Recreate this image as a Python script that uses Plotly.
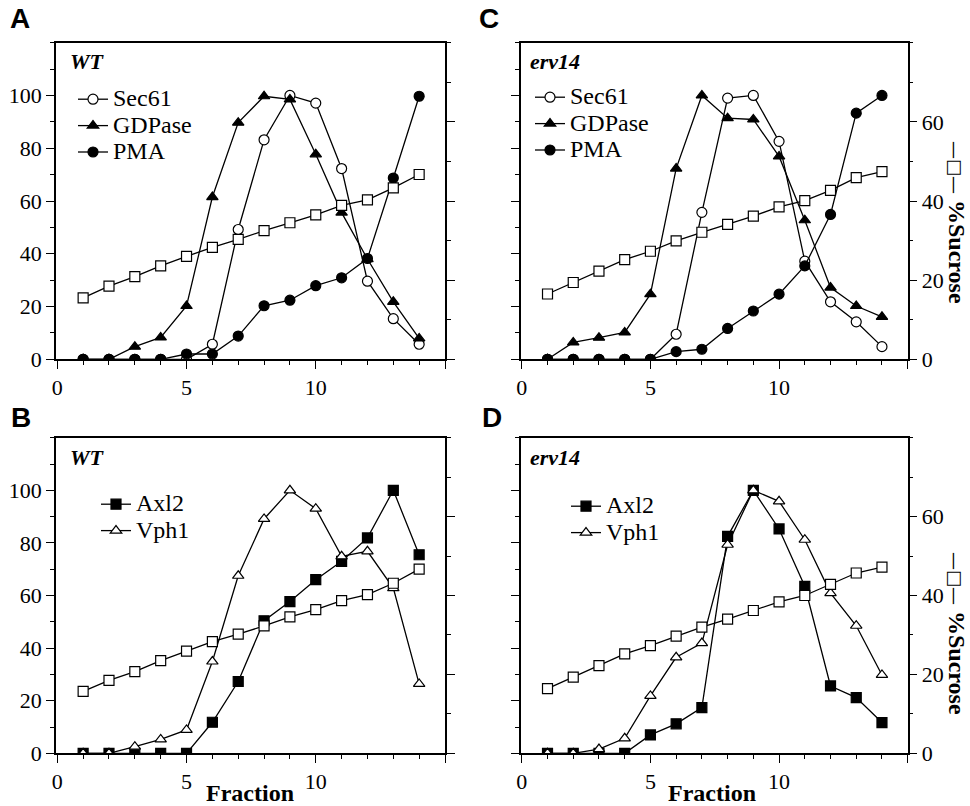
import plotly.graph_objects as go

fractions = list(range(1, 15))

# Panel A (WT)
a_sec61 = [0, 0, 0, 0, 0, 5.7, 49.2, 83.2, 100, 97.1, 72.3, 29.6, 15.4, 5.7]
a_gdpase = [0, 0, 4.8, 8.3, 20.2, 61.5, 89.7, 99.7, 98.5, 77.7, 55.6, 38, 21.8, 7.9]
a_pma = [0, 0, 0, 0, 2, 2, 8.8, 20.3, 22.4, 27.9, 30.9, 38.2, 68.7, 99.7]
a_sucrose = [15.5, 18.5, 20.9, 23.6, 26.0, 28.3, 30.3, 32.5, 34.5, 36.5, 38.9, 40.3, 43.3, 46.7]

# Panel C (erv14)
c_sec61 = [0, 0, 0, 0, 0, 9.5, 55.7, 99, 100, 82.6, 37.2, 21.8, 14.2, 4.8]
c_gdpase = [0, 6.4, 8.2, 10.2, 24.7, 72.3, 100, 91.4, 90.9, 76.9, 52.7, 27.2, 20.2, 16.1]
c_pma = [0, 0, 0, 0, 0, 2.9, 3.8, 11.7, 18.3, 24.7, 35.4, 54.9, 93.3, 100]
c_sucrose = [16.5, 19.4, 22.3, 25.2, 27.3, 29.9, 32.1, 34.1, 36.2, 38.5, 40.1, 42.7, 45.9, 47.4]

# Panel B (WT)
b_axl2 = [0, 0, 0, 0, 0, 11.8, 27.3, 50.4, 57.7, 66, 73, 81.9, 100, 75.5]
b_vph1 = [0, 0, 2.5, 5.3, 8.9, 34.9, 67.5, 89.1, 100, 93, 74.9, 76.8, 62.8, 26.4]
b_sucrose = [15.7, 18.5, 20.7, 23.5, 25.9, 28.3, 30.2, 32.3, 34.6, 36.4, 38.7, 40.2, 43.1, 46.7]

# Panel D (erv14)
d_axl2 = [0, 0, 0, 0, 7, 11.2, 17.4, 82.5, 100, 85.3, 63.5, 25.6, 21.2, 11.7]
d_vph1 = [0, 0, 1.6, 5.7, 21.8, 36.5, 41.9, 79.3, 100, 95.8, 81.2, 60.9, 48.5, 29.8]
d_sucrose = [16.4, 19.3, 22.2, 25.2, 27.3, 29.7, 32.0, 34.0, 36.2, 38.4, 40.0, 42.8, 45.7, 47.2]

x_tickvals = [0, 5, 10, 15]
x_ticktext = ["0", "5", "10", ""]
left_tickvals = [0, 20, 40, 60, 80, 100]
right_tickvals = [0, 20, 40, 60]

W, H = 970, 806
SERIF = "Liberation Serif"
SANS = "Liberation Sans"


def px(x):
    return x / W


def py(y):
    return (H - y) / H


fig = go.Figure()

panels = [
    # letter, xaxis, yaxis, right yaxis, x domain (px), y domain (px top, bottom)
    ("A", "x", "y", "y5", (56, 445), (42.7, 359.3)),
    ("C", "x2", "y2", "y6", (520.5, 907.7), (42.7, 359.3)),
    ("B", "x3", "y3", "y7", (56, 445), (437.7, 753.3)),
    ("D", "x4", "y4", "y8", (520.5, 907.7), (437.7, 753.3)),
]

line_style = dict(color="black", width=1.3)


def lname(s):
    return f'<span style="font-size:24px">{s}</span>'


def add(name, x, y, xa, ya, leg, symbol, fill, show=True):
    fig.add_trace(go.Scatter(
        x=x, y=y, name=lname(name), mode="lines+markers", xaxis=xa, yaxis=ya,
        legend=leg, showlegend=show, line=line_style, hoverinfo="skip",
        marker=dict(symbol=symbol, size=10,
                    color=fill, line=dict(color="black", width=1.2)),
    ))


# Panel A
add("Sec61", fractions, a_sec61, "x", "y", "legend", "circle", "white")
add("GDPase", fractions, a_gdpase, "x", "y", "legend", "triangle-up", "black")
add("PMA", fractions, a_pma, "x", "y", "legend", "circle", "black")
add("%Sucrose", fractions, a_sucrose, "x", "y5", "legend", "square", "white", show=False)
# Panel C
add("Sec61", fractions, c_sec61, "x2", "y2", "legend2", "circle", "white")
add("GDPase", fractions, c_gdpase, "x2", "y2", "legend2", "triangle-up", "black")
add("PMA", fractions, c_pma, "x2", "y2", "legend2", "circle", "black")
add("%Sucrose", fractions, c_sucrose, "x2", "y6", "legend2", "square", "white", show=False)
# Panel B
add("Axl2", fractions, b_axl2, "x3", "y3", "legend3", "square", "black")
add("Vph1", fractions, b_vph1, "x3", "y3", "legend3", "triangle-up", "white")
add("%Sucrose", fractions, b_sucrose, "x3", "y7", "legend3", "square", "white", show=False)
# Panel D
add("Axl2", fractions, d_axl2, "x4", "y4", "legend4", "square", "black")
add("Vph1", fractions, d_vph1, "x4", "y4", "legend4", "triangle-up", "white")
add("%Sucrose", fractions, d_sucrose, "x4", "y8", "legend4", "square", "white", show=False)

layout = dict(
    template="none",
    width=W, height=H, margin=dict(l=0, r=0, t=0, b=0, autoexpand=False),
    paper_bgcolor="white", plot_bgcolor="white",
    font=dict(family=SERIF, size=22, color="black"),
)

tickfont = dict(family=SERIF, size=22, color="black")

for letter, xa, ya, y2a, xd, yd in panels:
    xkey = "xaxis" + ("" if xa == "x" else xa[1:])
    ykey = "yaxis" + ("" if ya == "y" else ya[1:])
    y2key = "yaxis" + y2a[1:]
    show_left_labels = letter in ("A", "B")
    show_right_labels = letter in ("C", "D")
    layout[xkey] = dict(
        domain=[px(xd[0]), px(xd[1])], anchor=ya, range=[-0.05, 15],
        tickmode="array", tickvals=x_tickvals, ticktext=x_ticktext,
        ticks="outside", ticklen=8, tickwidth=1.3,
        minor=dict(tickmode="linear", dtick=1, tick0=0, ticks="outside", ticklen=4,
                   tickwidth=1, tickcolor="black"),
        showline=True, linecolor="black", linewidth=1.5, mirror=True,
        showgrid=False, zeroline=False, tickfont=tickfont, tickcolor="black",
        automargin=False,
    )
    layout[ykey] = dict(
        domain=[py(yd[1]), py(yd[0])], anchor=xa, range=[0, 120],
        tickmode="array", tickvals=left_tickvals,
        ticks="outside", ticklen=8, tickwidth=1.3,
        minor=dict(tickmode="linear", dtick=10, tick0=0, ticks="outside", ticklen=4,
                   tickwidth=1, tickcolor="black"),
        showticklabels=show_left_labels,
        showline=True, linecolor="black", linewidth=1.5,
        showgrid=False, zeroline=False, tickfont=tickfont, tickcolor="black",
        automargin=False,
    )
    layout[y2key] = dict(
        overlaying=ya, anchor=xa, side="right", range=[0, 80],
        tickmode="array", tickvals=right_tickvals,
        ticks="outside", ticklen=8, tickwidth=1.3,
        minor=dict(tickmode="linear", dtick=10, tick0=0, ticks="outside", ticklen=4,
                   tickwidth=1, tickcolor="black"),
        showticklabels=show_right_labels,
        showline=True, linecolor="black", linewidth=1.5,
        showgrid=False, zeroline=False, tickfont=tickfont, tickcolor="black",
        automargin=False,
    )

# Legends
legend_common = dict(bgcolor="rgba(0,0,0,0)", borderwidth=0,
                     font=dict(family=SERIF, size=18, color="black"),
                     xanchor="left", yanchor="top", tracegroupgap=0, itemwidth=30)
layout["legend"] = dict(legend_common, x=px(73), y=py(81))
layout["legend2"] = dict(legend_common, x=px(530), y=py(79))
layout["legend3"] = dict(legend_common, x=px(96), y=py(486))
layout["legend4"] = dict(legend_common, x=px(566), y=py(488))

fig.update_layout(**layout)

anns = []
for letter, x, y in [("A", 20, 19), ("C", 489, 19), ("B", 21, 417), ("D", 492, 417)]:
    anns.append(dict(text=f"<b>{letter}</b>", x=px(x), y=py(y), xref="paper", yref="paper",
                     showarrow=False, font=dict(family=SANS, size=28, color="black"),
                     xanchor="center", yanchor="middle"))
for text, x, y in [("WT", 68, 62), ("erv14", 528, 62), ("WT", 68, 457), ("erv14", 528, 457)]:
    anns.append(dict(text=f"<b><i>{text}</i></b>", x=px(x), y=py(y), xref="paper", yref="paper",
                     showarrow=False, font=dict(family=SERIF, size=22, color="black"),
                     xanchor="left", yanchor="middle"))
for x in (250, 712):
    anns.append(dict(text="<b>Fraction</b>", x=px(x), y=py(793), xref="paper", yref="paper",
                     showarrow=False, font=dict(family=SERIF, size=24, color="black"),
                     xanchor="center", yanchor="middle"))
sucrose_label = ('<span style="font-family:DejaVu Sans;font-size:18px">—□—</span>'
                 '<span style="font-family:Liberation Serif;font-size:24px"> <b>%Sucrose</b></span>')
for y in (222, 633):
    anns.append(dict(text=sucrose_label, x=px(957), y=py(y), xref="paper", yref="paper",
                     showarrow=False, textangle=90, font=dict(family=SERIF, size=24, color="black"),
                     xanchor="center", yanchor="middle"))
fig.update_layout(annotations=anns)

fig.write_html(
    "out.html",
    config={"displayModeBar": False},
    post_script="document.body.style.margin='0';document.body.style.padding='0';"
                "document.documentElement.style.margin='0';",
)
